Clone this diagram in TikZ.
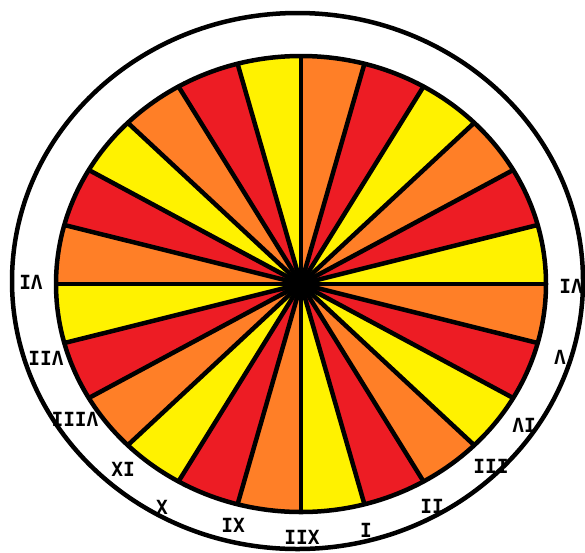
\documentclass[tikz,border=0pt]{standalone}
\usepackage{fontspec}
\newfontfamily\labfont{DejaVu Sans Mono}
\definecolor{pyel}{HTML}{FFF200}
\definecolor{pora}{HTML}{FF7F27}
\definecolor{pred}{HTML}{ED1C24}
\begin{document}
\begin{tikzpicture}[x=1pt,y=-1pt,
  lab/.style={font=\labfont\bfseries\fontsize{19.5}{19.5}\selectfont, inner sep=0pt, text=black},
  spoke/.style={line width=4.5pt, black},
  rim/.style={line width=4.5pt, black}]
\useasboundingbox (0,0) rectangle (585,552);
\fill[white] (0,0) rectangle (585,552);
\coordinate (c) at (301,284);
\foreach \k in {0,...,23} {
  \pgfmathtruncatemacro\m{mod(\k,3)}
  \ifcase\m \def\col{pora}\or \def\col{pred}\or \def\col{pyel}\fi
  \pgfmathsetmacro\a{-90+15*\k}
  \pgfmathsetmacro\b{-75+15*\k}
  \fill[\col] (c) -- ++({245*cos(\a)},{228*sin(\a)}) arc[start angle=\a, end angle=\b, x radius=245, y radius=228] -- cycle;
}
\foreach \k in {0,...,23} {
  \pgfmathsetmacro\a{-90+15*\k}
  \draw[spoke] (c) -- ++({245*cos(\a)},{228*sin(\a)});
}
\fill (c) circle (6);
\draw[rim] (c) ellipse[x radius=245, y radius=228];
\draw[rim] (297.5,281) ellipse[x radius=285.5, y radius=268];
\node[lab] (l1) at (31,282) {IΛ};
\node[lab] (l2) at (46,358) {IIΛ};
\node[lab] (l3) at (75,419) {IIIΛ};
\node[lab] (l4) at (123,469) {XI};
\node[lab] (l5) at (162,507) {X};
\node[lab] (l6) at (233,525) {IX};
\node[lab] (l7) at (302,537) {IIX};
\node[lab] (l8) at (366,530) {I};
\node[lab] (l9) at (432,506) {II};
\node[lab] (l10) at (491,466) {III};
\node[lab] (l11) at (524,425) {ΛI};
\node[lab] (l12) at (560,357) {Λ};
\node[lab] (l13) at (571,286) {IΛ};
\end{tikzpicture}
\end{document}
